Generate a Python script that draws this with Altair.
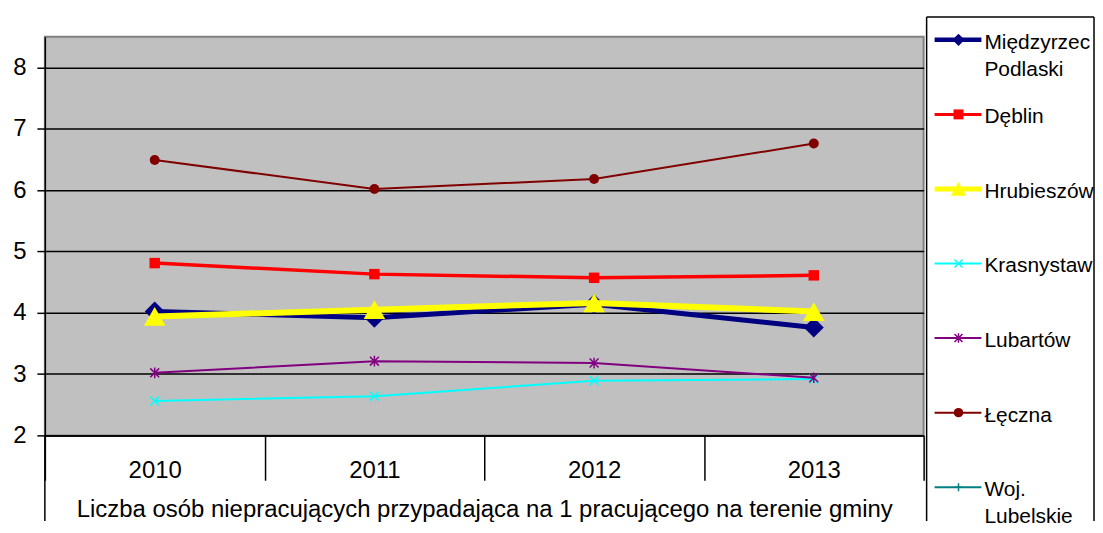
import altair as alt
import pandas as pd

# ---- data ----
YEARS = ["2010", "2011", "2012", "2013"]
SERIES = ["Międzyrzec Podlaski", "Dęblin", "Hrubieszów", "Krasnystaw",
          "Lubartów", "Łęczna", "Woj. Lubelskie"]
MIEDZYRZEC = [4.02, 3.92, 4.14, 3.76]
DEBLIN = [4.81, 4.63, 4.57, 4.61]
HRUBIESZOW = [3.94, 4.05, 4.16, 4.02]
KRASNYSTAW = [2.56, 2.64, 2.89, 2.92]
LUBARTOW = [3.02, 3.21, 3.18, 2.94]
LECZNA = [6.49, 6.02, 6.18, 6.76]
Y_TICKS = [2, 3, 4, 5, 6, 7, 8]
X_TITLE = "Liczba osób niepracujących przypadająca na 1 pracującego na terenie gminy"

VALUES = {
    "Międzyrzec Podlaski": MIEDZYRZEC,
    "Dęblin": DEBLIN,
    "Hrubieszów": HRUBIESZOW,
    "Krasnystaw": KRASNYSTAW,
    "Lubartów": LUBARTOW,
    "Łęczna": LECZNA,
}

# ---- styles ----
X_PATH = "M-1,-1L1,1M-1,1L1,-1"
AST_PATH = "M-1,-1L1,1M-1,1L1,-1M0,-1.2L0,1.2"
PLUS_PATH = "M-1,0L1,0M0,-1L0,1"
STYLE = {
    "Międzyrzec Podlaski": dict(color="#000080", lw=5, shape="diamond", filled=True, size=400, lsize=150, llw=4.5),
    "Dęblin": dict(color="#FF0000", lw=3.5, shape="square", filled=True, size=110, lsize=100, llw=3),
    "Hrubieszów": dict(color="#FFFF00", lw=6, shape="triangle-up", filled=True, size=470, lsize=240, llw=5),
    "Krasnystaw": dict(color="#00FFFF", lw=2, shape=X_PATH, filled=False, size=80, lsize=64, llw=2),
    "Lubartów": dict(color="#800080", lw=2, shape=AST_PATH, filled=False, size=80, lsize=64, llw=2),
    "Łęczna": dict(color="#800000", lw=2, shape="circle", filled=True, size=100, lsize=90, llw=2),
    "Woj. Lubelskie": dict(color="#008080", lw=2, shape=PLUS_PATH, filled=False, size=64, lsize=64, llw=2),
}

FONT = "Liberation Sans"
W, H = 882, 400
LW = 168
L_TOP = -20      # legend box starts above the plot area
L_BOTTOM = 486   # legend box runs to the bottom of the page
TX = 58

rows = []
for s, vals in VALUES.items():
    for yr, v in zip(YEARS, vals):
        rows.append({"series": s, "year": yr, "value": v})
df = pd.DataFrame(rows)

x_enc = alt.X(
    "year:N",
    scale=alt.Scale(type="band", domain=YEARS, paddingInner=0, paddingOuter=0),
    axis=alt.Axis(
        title=X_TITLE, labelAngle=0, tickBand="extent", tickSize=45,
        labelPadding=-22, tickColor="black", tickWidth=1.5,
        domainColor="black", domainWidth=1.5, labelFontSize=24,
        labelColor="black", titleFontSize=24, titleFontWeight="normal",
        titleColor="black", titlePadding=15, labelFont=FONT, titleFont=FONT,
    ),
)
y_enc = alt.Y(
    "value:Q",
    scale=alt.Scale(domain=[2, 8.5], nice=False, zero=False),
    axis=alt.Axis(
        title=None, values=Y_TICKS, grid=True, gridColor="black", gridWidth=1.5,
        tickColor="black", tickSize=8, tickWidth=1.5, labelPadding=11,
        domainColor="black", domainWidth=1.5, labelFontSize=24,
        labelColor="black", labelFont=FONT,
    ),
)

base = alt.Chart(df)
layers = []
for s in VALUES:
    st = STYLE[s]
    sub = base.transform_filter(alt.datum.series == s)
    layers.append(sub.mark_line(color=st["color"], strokeWidth=st["lw"]).encode(x=x_enc, y=y_enc))
    layers.append(sub.mark_point(shape=st["shape"], filled=st["filled"], size=st["size"],
                                 color=st["color"], opacity=1,
                                 strokeWidth=1.5).encode(x=x_enc, y=y_enc))

frame = alt.Chart(pd.DataFrame({"k": [0]})).mark_rule(color="black", strokeWidth=1.5, clip=False).encode(
    x=alt.value(0), y=alt.value(H), y2=alt.value(H + 86))

main = alt.layer(*layers, frame).properties(
    width=W, height=H,
    view=alt.ViewBackground(fill="#C0C0C0", stroke="#808080", strokeWidth=2),
)

# ---- legend panel ----
ldf = pd.DataFrame({"series": SERIES})
ly = alt.Y("series:N", scale=alt.Scale(type="point", domain=SERIES, range=[3, 452], padding=0),
           axis=None)
lbase = alt.Chart(ldf)
border = alt.Chart(pd.DataFrame({"k": [0]}))
llayers = [
    border.mark_rect(color="white").encode(
        x=alt.value(0), x2=alt.value(LW), y=alt.value(L_TOP), y2=alt.value(L_BOTTOM)),
]
for s in SERIES:
    st = STYLE[s]
    sub = lbase.transform_filter(alt.datum.series == s)
    llayers.append(sub.mark_rule(color=st["color"], strokeWidth=st["llw"]).encode(
        x=alt.value(8), x2=alt.value(55), y=ly))
    llayers.append(sub.mark_point(shape=st["shape"], filled=st["filled"], size=st["lsize"],
                                  color=st["color"], opacity=1, strokeWidth=1.5).encode(
        x=alt.value(32), y=ly))
ltext = lbase.mark_text(align="left", baseline="top", dy=-8, lineBreak=" ", lineHeight=27,
                        fontSize=21, font=FONT, color="black", limit=LW - TX, ellipsis=" ").encode(
    x=alt.value(TX), y=ly, text="series:N")
b_top = border.mark_rule(color="black", strokeWidth=1.5).encode(
    x=alt.value(0), x2=alt.value(LW), y=alt.value(L_TOP))
b_left = border.mark_rule(color="black", strokeWidth=1.5).encode(
    x=alt.value(0), y=alt.value(L_TOP), y2=alt.value(L_BOTTOM))
b_right = border.mark_rule(color="black", strokeWidth=1.5).encode(
    x=alt.value(LW), y=alt.value(L_TOP), y2=alt.value(L_BOTTOM))

legend = alt.layer(*llayers, ltext, b_top, b_left, b_right).properties(
    width=LW, height=H,
    view=alt.ViewBackground(fill="white", stroke=None),
)

chart = alt.hconcat(main, legend, spacing=0).properties(
    padding={"left": 3, "top": 7, "right": 0, "bottom": 0},
    background="white",
).configure(font=FONT)

chart.save("out.html", embed_options={"renderer": "svg", "actions": False})
